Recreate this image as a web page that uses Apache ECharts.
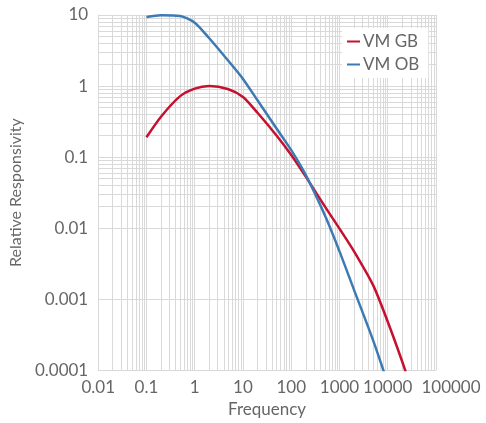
<!DOCTYPE html>
<html>
<head>
<meta charset="utf-8">
<script src="https://cdn.jsdelivr.net/npm/echarts@6/dist/echarts.min.js"></script>
<style>
html,body{margin:0;padding:0;background:#fff;}
#c{width:486px;height:423px;}
</style>
</head>
<body>
<div id="c"></div>
<script>
// ---- data ----
var freqGB = [0.1, 0.2, 0.5, 1, 2, 5, 10, 20, 50, 100, 200, 500, 1000, 2000, 5000, 10000, 20000, 50000];
var valuesGB = [0.19, 0.37, 0.72, 0.92, 1.0, 0.90, 0.70, 0.42, 0.20, 0.107, 0.053, 0.020, 0.0098, 0.0047, 0.00156, 0.00048, 0.000131, 0.000021];
var freqOB = [0.1, 0.2, 0.5, 1, 2, 5, 10, 20, 50, 100, 200, 500, 1000, 2000, 5000, 10000];
var valuesOB = [9.4, 9.9, 9.7, 7.8, 4.7, 2.25, 1.26, 0.63, 0.25, 0.125, 0.056, 0.015, 0.0047, 0.00135, 0.00026, 0.000065];
var seriesNames = ['VM GB', 'VM OB'];
var xTickLabels = ['0.01', '0.1', '1', '10', '100', '1000', '10000', '100000'];
var yTickLabels = ['0.0001', '0.001', '0.01', '0.1', '1', '10'];
var xMinExp = -2, yMinExp = -4;

// minor grid values (2..9 per decade)
function minorValues(minExp, decades) {
  var out = [];
  for (var d = 0; d < decades; d++) {
    for (var m = 2; m <= 9; m++) out.push(m * Math.pow(10, minExp + d));
  }
  return out;
}
var xMinor = minorValues(xMinExp, xTickLabels.length - 1);
var yMinor = minorValues(yMinExp, yTickLabels.length - 1);

function pair(xs, ys) { return xs.map(function (x, i) { return [x, ys[i]]; }); }
function xLabelIndex(v) { return Math.round(Math.log10(v)) - xMinExp; }

var gridColor = '#d9d9d9';
var textColor = '#666666';
var font = 'Lato, "Open Sans", sans-serif';
var xMin = 0.01, xMax = 100000;

var chart = echarts.init(document.getElementById('c'), null, {renderer: 'canvas'});
chart.setOption({
  animation: false,
  backgroundColor: '#ffffff',
  grid: {left: 77, right: 50, top: 15, bottom: 49, containLabel: false},
  legend: {
    data: seriesNames,
    orient: 'vertical',
    left: 342, top: 28,
    padding: [5, 9, 5, 5],
    backgroundColor: '#ffffff',
    itemGap: 6,
    itemWidth: 13, itemHeight: 2,
    icon: 'rect',
    z: 10,
    textStyle: {fontSize: 17, color: textColor, fontFamily: font, padding: [0, 0, 0, -2]}
  },
  xAxis: [{
    type: 'log', logBase: 10, position: 'bottom',
    min: xMin, max: xMax, interval: 1,
    name: 'Frequency', nameLocation: 'middle', nameGap: 28,
    nameTextStyle: {fontSize: 17, color: textColor, fontFamily: font},
    axisLine: {show: true, lineStyle: {color: gridColor}},
    axisTick: {show: false},
    axisLabel: {
      fontSize: 17, color: textColor, fontFamily: font, margin: 9,
      showMinLabel: true, showMaxLabel: false, hideOverlap: false,
      formatter: function (v) { return xTickLabels[xLabelIndex(v)]; }
    },
    splitLine: {show: true, lineStyle: {color: gridColor, width: 1}}
  }, {
    // carries only the last tick label (shifted right as in the source)
    type: 'log', logBase: 10, position: 'bottom', offset: 0,
    min: xMin, max: xMax, interval: 1,
    axisLine: {show: false}, axisTick: {show: false}, splitLine: {show: false},
    axisLabel: {
      fontSize: 17, color: textColor, fontFamily: font, margin: 9,
      padding: [0, 0, 0, 30],
      showMinLabel: false, showMaxLabel: true, hideOverlap: false,
      formatter: function (v) {
        var i = xLabelIndex(v);
        return i === xTickLabels.length - 1 ? xTickLabels[i] : '';
      }
    }
  }],
  yAxis: {
    type: 'log', logBase: 10,
    min: 0.0001, max: 10, interval: 1,
    name: 'Relative Responsivity', nameLocation: 'middle', nameGap: 50,
    nameTextStyle: {fontSize: 16, color: textColor, fontFamily: font},
    axisLine: {show: true, lineStyle: {color: gridColor}},
    axisTick: {show: false},
    axisLabel: {
      fontSize: 17, color: textColor, fontFamily: font, margin: 10,
      showMinLabel: true, showMaxLabel: true, hideOverlap: false,
      formatter: function (v) { return yTickLabels[Math.round(Math.log10(v)) - yMinExp]; }
    },
    splitLine: {show: true, lineStyle: {color: gridColor, width: 1}}
  },
  series: [
    {
      name: 'minorGrid', type: 'line', data: [], z: 1, silent: true,
      markLine: {
        silent: true, z: 1, symbol: ['none', 'none'], animation: false,
        label: {show: false},
        lineStyle: {color: gridColor, width: 1, type: 'solid'},
        emphasis: {disabled: true},
        data: xMinor.map(function (v) { return {xAxis: v}; })
          .concat(yMinor.map(function (v) { return {yAxis: v}; }))
      }
    },
    {
      name: seriesNames[0], type: 'line', data: pair(freqGB, valuesGB),
      smooth: 0.25, showSymbol: false, symbol: 'none', clip: true, z: 3,
      lineStyle: {color: '#c5102f', width: 2.5}, itemStyle: {color: '#c5102f'}
    },
    {
      name: seriesNames[1], type: 'line', data: pair(freqOB, valuesOB),
      smooth: 0.25, showSymbol: false, symbol: 'none', clip: true, z: 3,
      lineStyle: {color: '#3d7ab4', width: 2.5}, itemStyle: {color: '#3d7ab4'}
    }
  ]
});
</script>
</body>
</html>
